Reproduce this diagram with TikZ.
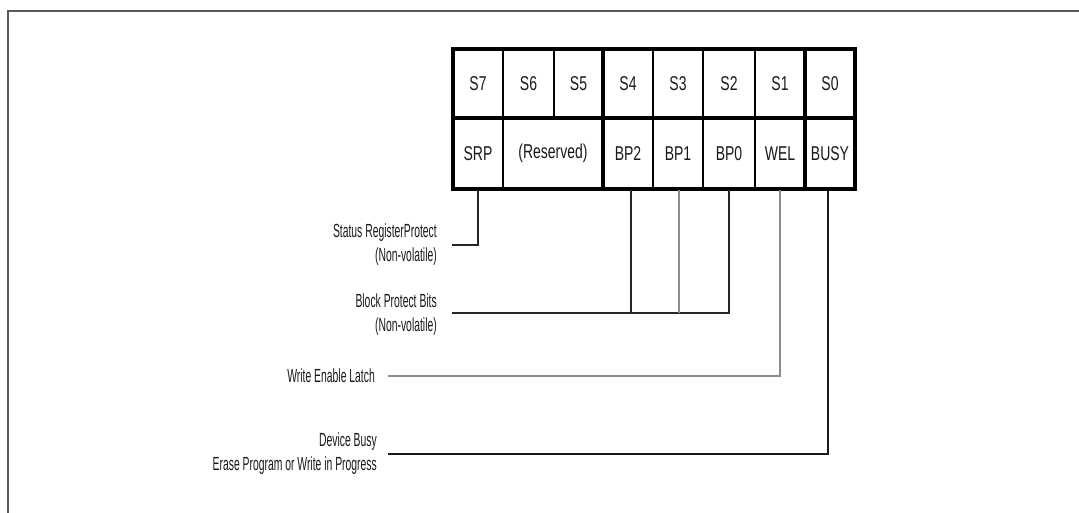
\documentclass[tikz,border=0pt]{standalone}
\usepackage{fontspec}
\newfontfamily\cellfam[FakeStretch=0.70]{Liberation Sans}
\newfontfamily\labfam[FakeStretch=0.546]{Liberation Sans}
\begin{document}
\begin{tikzpicture}[x=1pt,y=-1pt,
  cell/.style={draw=black, line width=2.6pt, minimum height=69.5pt, inner sep=0pt,
    font=\cellfam\fontsize{20}{22}\selectfont, text=black!90},
  lab/.style={anchor=east, align=right, inner sep=0pt,
    font=\labfam\fontsize{19}{24}\selectfont, text=black!90},
  conn/.style={line width=1.5pt, black!85},
  connlight/.style={line width=1.6pt, black!45},
  frame/.style={line width=2pt, black!65}]
\useasboundingbox (0,0) rectangle (1079,513);
% outer frame (cut off at right and bottom)
\draw[frame] (8,520) -- (8,11) -- (1090,11);
% top row
\node[cell, minimum width=50pt] (s7) at (478,83.5) {S7};
\node[cell, minimum width=51pt] (s6) at (528.5,83.5) {S6};
\node[cell, minimum width=49pt] (s5) at (578.5,83.5) {S5};
\node[cell, minimum width=50pt] (s4) at (628,83.5) {S4};
\node[cell, minimum width=50pt] (s3) at (678,83.5) {S3};
\node[cell, minimum width=52pt] (s2) at (729,83.5) {S2};
\node[cell, minimum width=50pt] (s1) at (780,83.5) {S1};
\node[cell, minimum width=50pt] (s0) at (830,83.5) {S0};
% bottom row
\node[cell, minimum width=50pt] (srp) at (478,153.5) {SRP};
\node[cell, minimum width=100pt] (res) at (553,153.5) {(Reserved)};
\node[cell, minimum width=50pt] (bp2) at (628,153.5) {BP2};
\node[cell, minimum width=50pt] (bp1) at (678,153.5) {BP1};
\node[cell, minimum width=52pt] (bp0) at (729,153.5) {BP0};
\node[cell, minimum width=50pt] (wel) at (780,153.5) {WEL};
\node[cell, minimum width=50pt] (busy) at (830,153.5) {BUSY};
% thick outer border and row divider
\draw[line width=4.2pt] (453,49) rectangle (855,189);
\draw[line width=4.2pt] (453,118) -- (855,118);
\draw[line width=3.6pt] (603,49) -- (603,189);
\draw[line width=3.6pt] (805,49) -- (805,189);
% end points
\coordinate (srpend) at (452,245);
\coordinate (bpend) at (452,313);
\coordinate (welend) at (388,376);
\coordinate (busyend) at (388,454);
% connectors
\draw[conn] (srp.south) |- (srpend);
\draw[conn] (bp0.south) |- (bpend);
\draw[conn] ([xshift=3pt]bp2.south) -- ([xshift=3pt]bp2.south |- bpend);
\draw[connlight] ([xshift=1pt]bp1.south) -- ([xshift=1pt]bp1.south |- bpend);
\draw[connlight] (wel.south) |- (welend);
\draw[line width=2.4pt, black!90] ([xshift=-2pt]busy.south) |- (busyend);
% labels
\node[lab] (lsrp) at (437,245) {Status RegisterProtect\\(Non-volatile)};
\node[lab] (lbp) at (437,314.5) {Block Protect Bits\\(Non-volatile)};
\node[lab] (lwel) at (375,376) {Write Enable Latch};
\node[lab] (lbusy) at (377,454) {Device Busy\\Erase Program or Write in Progress};
\end{tikzpicture}
\end{document}
